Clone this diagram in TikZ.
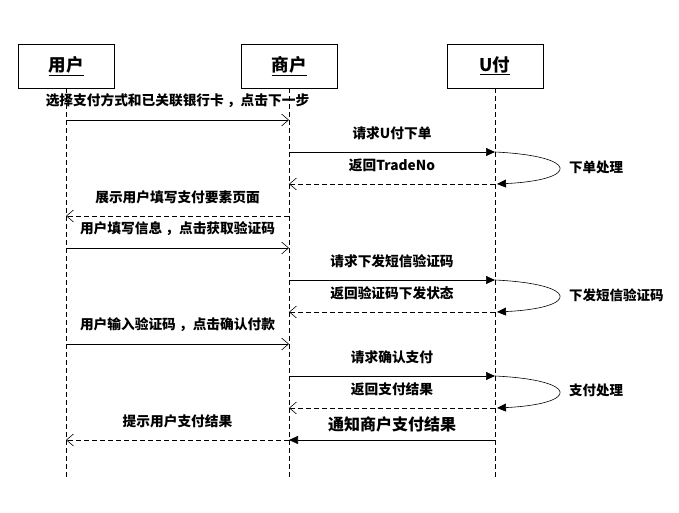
\documentclass[tikz,border=0pt]{standalone}
\usepackage{fontspec}
\setmainfont{Noto Sans CJK SC}
\usetikzlibrary{arrows.meta}
\begin{document}
\begin{tikzpicture}[x=1pt,y=-1pt,
  actor/.style={draw, line width=0.9pt, minimum width=96pt, minimum height=44pt, inner sep=0pt, font=\fontsize{17.5}{17.5}\selectfont\bfseries},
  life/.style={line width=0.6pt, dash pattern=on 5pt off 3pt},
  msg/.style={line width=0.6pt, -{Straight Barb[length=7pt,width=12pt,line width=0.6pt]}},
  sync/.style={line width=0.6pt, -{Triangle[length=9pt,width=8pt]}},
  ret/.style={msg, dash pattern=on 5pt off 3pt},
  lbl/.style={font=\fontsize{13.7}{14}\selectfont\bfseries, inner sep=0pt},
  biglbl/.style={font=\fontsize{16}{16}\selectfont\bfseries, inner sep=0pt},
  note/.style={font=\fontsize{13.5}{14}\selectfont\bfseries, inner sep=0pt, anchor=west}]
\useasboundingbox (0,0) rectangle (679,513);
% actors
\node[actor] (user) at (66,66) {\underline{用户}};
\node[actor] (merch) at (289,66) {\underline{商户}};
\node[actor] (upay) at (495,66) {\underline{U付}};
\coordinate (userEnd) at (66,479);
\coordinate (merchEnd) at (289,479);
\coordinate (upayEnd) at (495,479);
\draw[life] (user.south) -- (userEnd);
\draw[life] (merch.south) -- (merchEnd);
\draw[life] (upay.south) -- (upayEnd);
% message end points
\foreach \n/\y in {1/120,2/152,3/184,4/216,5/248,6/280,7/312,8/344,9/376,10/408,11/440}{
  \coordinate (u\n) at (66,\y);
  \coordinate (m\n) at (289,\y);
  \coordinate (p\n) at (495,\y);
}
\coordinate (q3) at (497,184);
\coordinate (q7) at (497,312);
\coordinate (q10) at (497,408);
% messages
\draw[msg] (u1) -- (m1) node[lbl, midway, above=12pt] (l1) {选择支付方式和已关联银行卡 ，点击下一步};
\draw[sync] (m2) -- (p2) node[lbl, midway, above=12pt] (l2) {请求U付下单};
\draw[sync] (p2) .. controls (580,156) and (580,180) .. (q3);
\node[note] (n1) at (569,167) {下单处理};
\draw[ret] (p3) -- (m3) node[lbl, midway, above=12pt] (l3) {返回TradeNo};
\draw[ret] (m4) -- (u4) node[lbl, midway, above=12pt] (l4) {展示用户填写支付要素页面};
\draw[msg] (u5) -- (m5) node[lbl, midway, above=12pt] (l5) {用户填写信息 ，点击获取验证码};
\draw[sync] (m6) -- (p6) node[lbl, midway, above=12pt] (l6) {请求下发短信验证码};
\draw[sync] (p6) .. controls (580,284) and (580,308) .. (q7);
\node[note] (n2) at (569,295) {下发短信验证码};
\draw[ret] (p7) -- (m7) node[lbl, midway, above=12pt] (l7) {返回验证码下发状态};
\draw[msg] (u8) -- (m8) node[lbl, midway, above=12pt] (l8) {用户输入验证码 ，点击确认付款};
\draw[sync] (m9) -- (p9) node[lbl, midway, above=12pt] (l9) {请求确认支付};
\draw[sync] (p9) .. controls (580,380) and (580,404) .. (q10);
\node[note] (n3) at (569,390) {支付处理};
\draw[ret] (p10) -- (m10) node[lbl, midway, above=12pt] (l10) {返回支付结果};
\draw[sync] (p11) -- (m11) node[biglbl, midway, above=8pt] (l11) {通知商户支付结果};
\draw[ret] (m11) -- (u11) node[lbl, midway, above=12pt] (l12) {提示用户支付结果};
\end{tikzpicture}
\end{document}
